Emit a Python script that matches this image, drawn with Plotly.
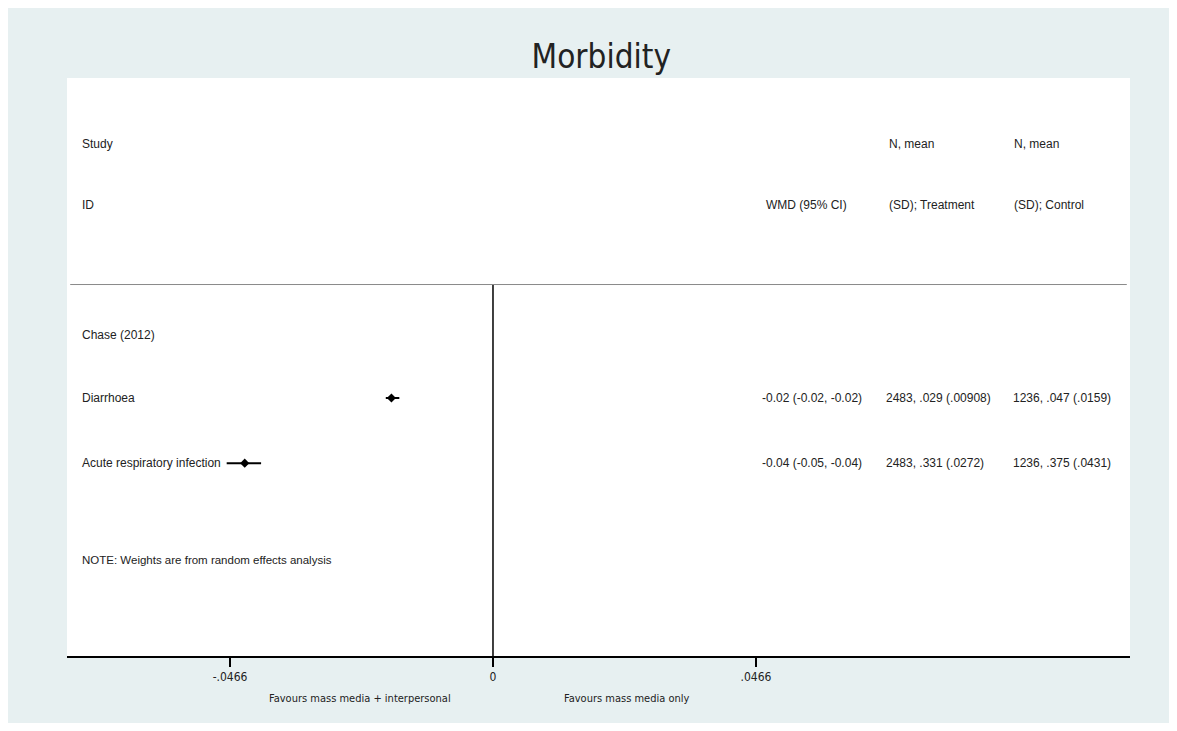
import plotly.graph_objects as go

# ------------------------------------------------------------------
# Data
# ------------------------------------------------------------------

STUDY_LABELS = ['Chase (2012)', 'Diarrhoea', 'Acute respiratory infection']
WMD = [None, -0.018, -0.044]
CI_LOW = [None, -0.0190, -0.0472]
CI_HIGH = [None, -0.0166, -0.0411]
WMD_TEXT = ['', '-0.02 (-0.02, -0.02)', '-0.04 (-0.05, -0.04)']
TREAT_TEXT = ['', '2483, .029 (.00908)', '2483, .331 (.0272)']
CTRL_TEXT = ['', '1236, .047 (.0159)', '1236, .375 (.0431)']

TICK_VALS = [-0.0466, 0, 0.0466]
TICK_TEXT = ['-.0466', '0', '.0466']
X_RANGE = [-0.0755, 0.1129]

NOTE = 'NOTE: Weights are from random effects analysis'
FAVOURS_LEFT = 'Favours mass media + interpersonal'
FAVOURS_RIGHT = 'Favours mass media only'

# row layout (row units, top = 0)
ROW_STUDY = [3.08, 4.1, 5.15]
ROW_HEAD1, ROW_HEAD2 = 0.0, 0.98
ROW_SEP = 2.27
ROW_NOTE = 6.71
Y_RANGE = [8.26, -1.06]

BG = '#e7f0f1'
FONT = 'Liberation Sans, Arial, sans-serif'
NARROW = 'Liberation Sans Narrow, Arial Narrow, DejaVu Sans Condensed, Liberation Sans, sans-serif'

# column positions (paper fraction)
COL_LABEL, COL_WMD, COL_TREAT, COL_CTRL = 0.012, 0.656, 0.771, 0.889

fig = go.Figure()

xs = [w for w in WMD if w is not None]
ys = [r for w, r in zip(WMD, ROW_STUDY) if w is not None]
plus = [h - w for w, h in zip(WMD, CI_HIGH) if w is not None]
minus = [w - l for w, l in zip(WMD, CI_LOW) if w is not None]

fig.add_trace(go.Scatter(
    x=xs, y=ys, mode='markers',
    marker=dict(symbol='diamond', size=7, color='black'),
    error_x=dict(type='data', symmetric=False, array=plus, arrayminus=minus,
                 color='black', thickness=2, width=0),
    showlegend=False, hoverinfo='skip',
))

# null line and separator
fig.add_shape(type='line', x0=0, x1=0, y0=ROW_SEP, y1=Y_RANGE[0],
              line=dict(color='black', width=1.5))
fig.add_shape(type='line', xref='paper', x0=0.003, x1=0.997,
              y0=ROW_SEP, y1=ROW_SEP, line=dict(color='#8a8a8a', width=1))


def txt(x, y, s, size=12, font=FONT):
    fig.add_annotation(x=x, y=y, xref='paper', yref='y', text=s,
                       showarrow=False, xanchor='left', yanchor='middle',
                       font=dict(family=font, size=size, color='#222'))


txt(COL_LABEL, ROW_HEAD1, 'Study')
txt(COL_LABEL, ROW_HEAD2, 'ID')
txt(COL_WMD, ROW_HEAD2, 'WMD (95% CI)')
txt(COL_TREAT, ROW_HEAD1, 'N, mean')
txt(COL_TREAT, ROW_HEAD2, '(SD); Treatment')
txt(COL_CTRL, ROW_HEAD1, 'N, mean')
txt(COL_CTRL, ROW_HEAD2, '(SD); Control')

for lab, w, t, c, r in zip(STUDY_LABELS, WMD_TEXT, TREAT_TEXT, CTRL_TEXT, ROW_STUDY):
    txt(COL_LABEL, r, lab)
    if w:
        txt(COL_WMD - 0.004, r, w)
        txt(COL_TREAT - 0.002, r, t)
        txt(COL_CTRL - 0.001, r, c)

txt(COL_LABEL, ROW_NOTE, NOTE, size=11.5)

# favours labels under the axis
for label, xc in [(FAVOURS_LEFT, 0.276), (FAVOURS_RIGHT, 0.527)]:
    fig.add_annotation(x=xc, y=-0.0727, xref='paper', yref='paper',
                       text=label, showarrow=False, xanchor='center',
                       yanchor='middle',
                       font=dict(family=NARROW, size=11, color='#222'))

fig.update_layout(
    width=1161, height=715,
    margin=dict(l=59, r=39, t=70, b=67),
    paper_bgcolor=BG, plot_bgcolor='white',
    title=dict(text='Morbidity', x=0.511, xanchor='center', y=0.932,
               yanchor='middle',
               font=dict(family=NARROW, size=33, color='#222')),
    xaxis=dict(range=X_RANGE, tickvals=TICK_VALS, ticktext=TICK_TEXT,
               showgrid=False, zeroline=False, showline=True,
               linecolor='black', linewidth=2, ticks='outside',
               ticklen=9, tickwidth=1.5, tickcolor='black',
               tickfont=dict(family=NARROW, size=12, color='#222')),
    yaxis=dict(range=Y_RANGE, visible=False, showgrid=False, zeroline=False),
)

fig.write_html('out.html')
